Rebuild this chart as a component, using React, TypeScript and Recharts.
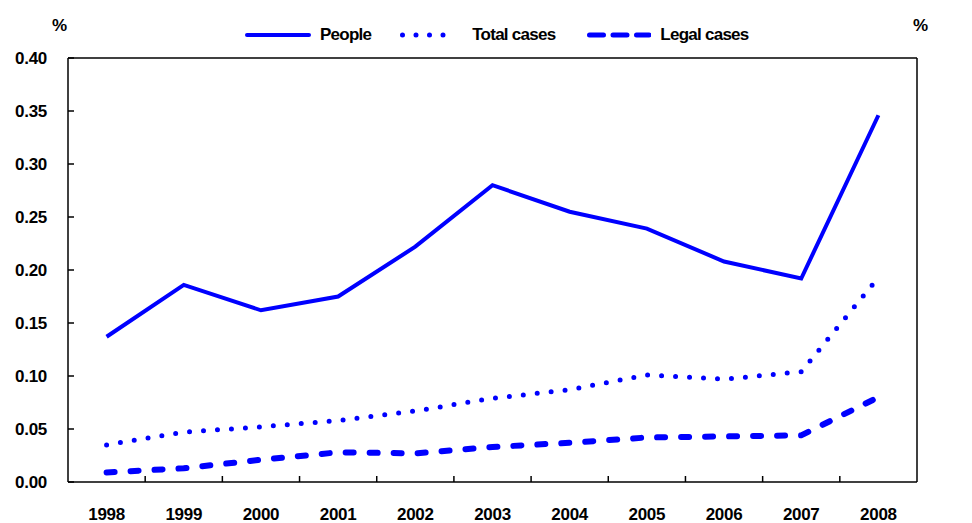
import { Legend, Line, LineChart, ReferenceLine, XAxis, YAxis } from "recharts";

const YEARS = ["1998", "1999", "2000", "2001", "2002", "2003", "2004", "2005", "2006", "2007", "2008"];
const PEOPLE = [0.137, 0.186, 0.162, 0.175, 0.222, 0.28, 0.255, 0.239, 0.208, 0.192, 0.346];
const TOTAL_CASES = [0.035, 0.047, 0.052, 0.058, 0.067, 0.079, 0.087, 0.101, 0.097, 0.104, 0.193];
const LEGAL_CASES = [0.009, 0.013, 0.021, 0.028, 0.027, 0.033, 0.037, 0.042, 0.043, 0.044, 0.08];
const Y_TICKS = [0, 0.05, 0.1, 0.15, 0.2, 0.25, 0.3, 0.35, 0.4];

const BLUE = "#0000ff";
const FAMILY = "'Liberation Sans', Arial, sans-serif";
const FONT = {
  fontFamily: FAMILY,
  fontSize: 17,
  fontWeight: "bold" as const,
  letterSpacing: -0.3,
  fill: "#000",
};

const data = YEARS.map((year, i) => ({
  year,
  people: PEOPLE[i],
  total: TOTAL_CASES[i],
  legal: LEGAL_CASES[i],
}));

// year labels sit under each band, tick marks go on the band edges
function YearTick(props: any) {
  const { x, y, payload, index } = props;
  const half = payload.offset ?? 38.6;
  return (
    <g>
      {index < YEARS.length - 1 && (
        <line x1={x + half} x2={x + half} y1={y} y2={y - 6} stroke="#000" strokeWidth={1.5} />
      )}
      <text x={x} y={y + 38} textAnchor="middle" style={FONT}>
        {payload.value}
      </text>
    </g>
  );
}

function LeftTick(props: any) {
  const { x, y, payload } = props;
  return (
    <g>
      <line x1={x} x2={x + 6} y1={y} y2={y} stroke="#000" strokeWidth={1.5} />
      <text x={x - 21} y={y + 6} textAnchor="end" style={FONT}>
        {payload.value.toFixed(2)}
      </text>
    </g>
  );
}

function RightTick(props: any) {
  const { x, y, payload } = props;
  return (
    <g>
      <line x1={x} x2={x - 6} y1={y} y2={y} stroke="#000" strokeWidth={1.5} />
      <text x={x + 21} y={y + 6} textAnchor="start" style={FONT}>
        {payload.value.toFixed(2)}
      </text>
    </g>
  );
}

const legendText = {
  fontFamily: FAMILY,
  fontSize: 17,
  fontWeight: "bold" as const,
  letterSpacing: -0.75,
  color: "#000",
  lineHeight: "20px",
};

function LegendContent() {
  return (
    <div style={{ display: "flex", alignItems: "center", paddingLeft: 245, ...legendText }}>
      <svg width={66} height={12} style={{ marginRight: 9 }}>
        <line x1={2} x2={64} y1={6} y2={6} stroke={BLUE} strokeWidth={4} strokeLinecap="round" />
      </svg>
      <span style={{ marginRight: 29 }}>People</span>
      <svg width={58} height={12} style={{ marginRight: 14 }}>
        <line x1={2.5} x2={56} y1={6} y2={6} stroke={BLUE} strokeWidth={5} strokeLinecap="round" strokeDasharray="0 13.5" />
      </svg>
      <span style={{ marginRight: 32 }}>Total cases</span>
      <svg width={64} height={12} style={{ marginRight: 9 }}>
        <line x1={2.5} x2={62} y1={6} y2={6} stroke={BLUE} strokeWidth={5} strokeLinecap="round" strokeDasharray="14 9.5" />
      </svg>
      <span>Legal cases</span>
    </div>
  );
}

export default function App() {
  return (
    <div style={{ position: "absolute", left: 0, top: 0, width: 972, height: 523, background: "#fff" }}>
      <LineChart width={972} height={523} data={data} margin={{ top: 58, right: 0, bottom: 0, left: 0 }}>
        <XAxis
          dataKey="year"
          scale="band"
          height={41}
          axisLine={{ stroke: "#000", strokeWidth: 1.5 }}
          tickLine={false}
          tickSize={0}
          tickMargin={0}
          interval={0}
          tick={<YearTick />}
        />
        <YAxis
          yAxisId="left"
          width={68}
          domain={[0, 0.4]}
          ticks={Y_TICKS}
          axisLine={{ stroke: "#000", strokeWidth: 1.5 }}
          tickLine={false}
          tickSize={0}
          tickMargin={0}
          interval={0}
          tick={<LeftTick />}
        />
        <YAxis
          yAxisId="right"
          orientation="right"
          width={55}
          domain={[0, 0.4]}
          ticks={Y_TICKS}
          axisLine={{ stroke: "#000", strokeWidth: 1.5 }}
          tickLine={false}
          tickSize={0}
          tickMargin={0}
          interval={0}
          tick={<RightTick />}
        />
        <ReferenceLine yAxisId="left" y={0.4} stroke="#000" strokeWidth={1.5} />
        <Legend
          verticalAlign="middle"
          align="center"
          content={<LegendContent />}
          wrapperStyle={{ top: 25, left: 0, width: 972 }}
        />
        <Line
          yAxisId="left"
          dataKey="people"
          name="People"
          stroke={BLUE}
          strokeWidth={4}
          dot={false}
          isAnimationActive={false}
        />
        <Line
          yAxisId="left"
          dataKey="total"
          name="Total cases"
          stroke={BLUE}
          strokeWidth={5}
          strokeLinecap="round"
          strokeDasharray="0 14"
          dot={false}
          isAnimationActive={false}
        />
        <Line
          yAxisId="left"
          dataKey="legal"
          name="Legal cases"
          stroke={BLUE}
          strokeWidth={6}
          strokeLinecap="round"
          strokeDasharray="8 16"
          dot={false}
          isAnimationActive={false}
        />
        <text x={52} y={31} style={FONT}>%</text>
        <text x={913} y={31} style={FONT}>%</text>
      </LineChart>
    </div>
  );
}
